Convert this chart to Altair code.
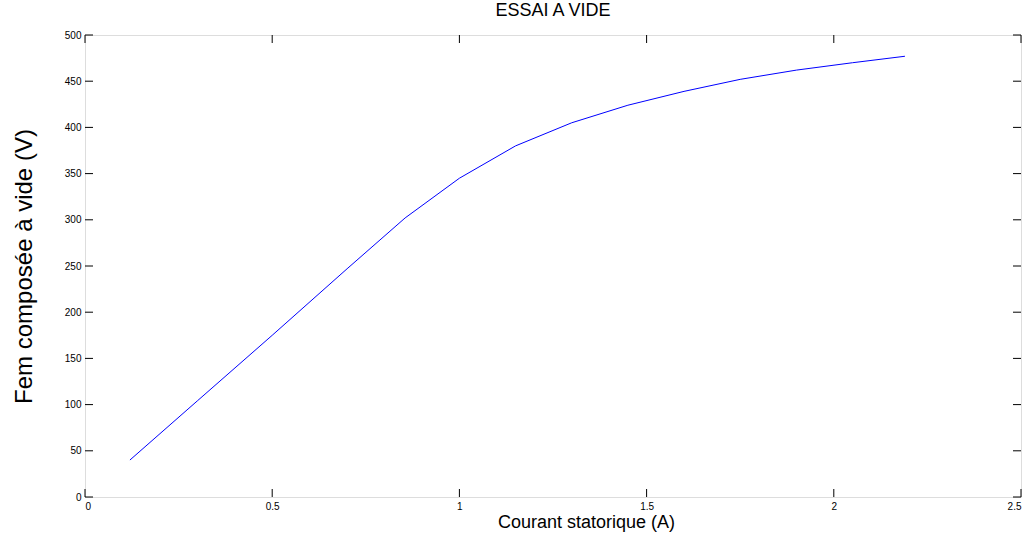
import altair as alt
import pandas as pd

# Data
courant = [0.12, 0.30, 0.50, 0.70, 0.855, 1.00, 1.15, 1.30, 1.45, 1.60, 1.75, 1.90, 2.05, 2.19]
fem = [40, 104, 175, 247, 302, 345, 380, 405, 424, 439, 452, 462, 470, 477]

x_ticks = [0, 0.5, 1, 1.5, 2, 2.5]
y_ticks = [0, 50, 100, 150, 200, 250, 300, 350, 400, 450, 500]

W, H = 936, 462
FONT = "Liberation Sans"

df = pd.DataFrame({"courant": courant, "fem": fem})
xt = pd.DataFrame({"t": x_ticks})
yt = pd.DataFrame({"t": y_ticks})

xscale = alt.Scale(domain=[0, 2.5], nice=False, zero=False)
yscale = alt.Scale(domain=[0, 500], nice=False, zero=False)

line = alt.Chart(df).mark_line(color="#0000ff", strokeWidth=1).encode(
    x=alt.X("courant:Q", scale=xscale,
            axis=alt.Axis(values=x_ticks, format="~g", tickSize=0, domain=False, grid=False,
                          labelFontSize=10, labelFont=FONT, labelColor="#000", labelPadding=4,
                          title="Courant statorique (A)", titleFont=FONT, titleFontSize=18,
                          titleFontWeight="normal", titleColor="#000", titlePadding=2,
                          titleX=501, titleAlign="center")),
    y=alt.Y("fem:Q", scale=yscale,
            axis=alt.Axis(values=y_ticks, format="d", tickSize=0, domain=False, grid=False,
                          labelFontSize=10, labelFont=FONT, labelColor="#000", labelPadding=4,
                          title="Fem composée à vide (V)", titleFont=FONT, titleFontSize=24,
                          titleFontWeight="normal", titleColor="#000", titlePadding=28)),
)

tick_len = 8
bottom_ticks = alt.Chart(xt).mark_rule(color="#000", strokeWidth=1).encode(
    x=alt.X("t:Q", scale=xscale), y=alt.value(H), y2=alt.value(H - tick_len))
top_ticks = alt.Chart(xt).mark_rule(color="#000", strokeWidth=1).encode(
    x=alt.X("t:Q", scale=xscale), y=alt.value(0), y2=alt.value(tick_len))
left_ticks = alt.Chart(yt).mark_rule(color="#000", strokeWidth=1).encode(
    y=alt.Y("t:Q", scale=yscale), x=alt.value(0), x2=alt.value(tick_len))
right_ticks = alt.Chart(yt).mark_rule(color="#000", strokeWidth=1).encode(
    y=alt.Y("t:Q", scale=yscale), x=alt.value(W), x2=alt.value(W - tick_len))

chart = alt.layer(line, bottom_ticks, top_ticks, left_ticks, right_ticks).properties(
    width=W, height=H,
    title=alt.TitleParams("ESSAI A VIDE", font=FONT, fontSize=18, fontWeight="normal",
                          color="#000", offset=10, anchor="middle"),
    autosize=alt.AutoSizeParams(type="none"),
    padding={"left": 85, "top": 35, "right": 8, "bottom": 38},
).configure_view(stroke="#000", strokeWidth=1).configure(background="white")

chart.save("out.html", embed_options={"renderer": "svg", "actions": False})
